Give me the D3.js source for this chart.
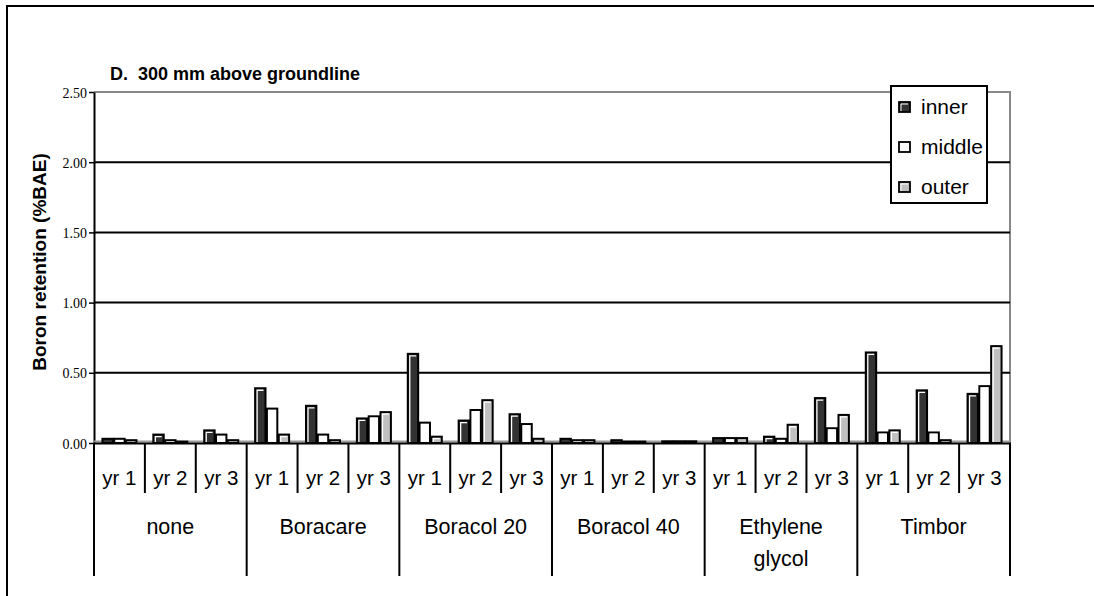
<!DOCTYPE html>
<html><head><meta charset="utf-8">
<script src="https://cdn.jsdelivr.net/npm/d3@7"></script>
<style>
html,body{margin:0;padding:0;background:#fff;}
svg{display:block;}
</style></head>
<body>
<svg id="chart" width="1094" height="596"></svg>
<script>
// ---- data ----
const groups = ["none", "Boracare", "Boracol 20", "Boracol 40", "Ethylene glycol", "Timbor"];
const years = ["yr 1", "yr 2", "yr 3"];
const seriesNames = ["inner", "middle", "outer"];
const inner  = [0.03, 0.06, 0.09,  0.39, 0.265, 0.175,  0.635, 0.16, 0.205,  0.03, 0.02, 0.012,  0.035, 0.045, 0.32,  0.645, 0.375, 0.35];
const middle = [0.03, 0.02, 0.06,  0.245, 0.06, 0.19,   0.145, 0.235, 0.135, 0.02, 0.01, 0.012,  0.035, 0.03, 0.105,  0.075, 0.075, 0.405];
const outer  = [0.02, 0.01, 0.02,  0.06, 0.02, 0.22,    0.045, 0.305, 0.03,  0.02, 0.01, 0.012,  0.035, 0.13, 0.2,    0.09, 0.02, 0.69];
const yTicks = [0, 0.5, 1.0, 1.5, 2.0, 2.5];
const colors = {inner: "#333333", middle: "#ffffff", outer: "#c0c0c0"};

const seriesVals = {inner, middle, outer};
const cats = [];
groups.forEach(g => years.forEach(y => cats.push(g + "|" + y)));

const SANS = "'Liberation Sans', Arial, sans-serif";
const SERIF = "'Liberation Serif', 'Times New Roman', serif";

const svg = d3.select("#chart");
const L = 94, R = 1010, T = 92, B = 443;

const x = d3.scaleBand().domain(cats).range([L, R]).paddingInner(0).paddingOuter(0);
const y = d3.scaleLinear().domain([0, 2.5]).range([B, T]);
const x1 = d3.scaleBand().domain(seriesNames).range([-17, 17]).paddingInner(0.12);

// outer frame (top & left)
svg.append("path").attr("d", "M7,596 V6 H1094").attr("fill", "none").attr("stroke", "#000").attr("stroke-width", 2);

// title
svg.append("text").attr("x", 110).attr("y", 80)
  .attr("font-family", SANS).attr("font-weight", "bold").attr("font-size", 18)
  .style("white-space", "pre").text("D.  300 mm above groundline");

// plot border (gray top and right)
svg.append("path").attr("d", `M${L},${y(2.5)} H${R} V${B}`).attr("fill", "none").attr("stroke", "#888").attr("stroke-width", 2);

// gridlines
svg.append("g").selectAll("line").data(yTicks.filter(t => t > 0 && t < 2.5)).join("line")
  .attr("x1", L).attr("x2", R).attr("y1", d => y(d)).attr("y2", d => y(d))
  .attr("stroke", "#000").attr("stroke-width", 2);

// y axis
const yAxis = d3.axisLeft(y).tickValues(yTicks).tickFormat(d3.format(".2f")).tickSize(5).tickSizeOuter(0);
const ya = svg.append("g").attr("transform", `translate(${L},0)`).call(yAxis);
ya.select(".domain").attr("stroke", "#000").attr("stroke-width", 2);
ya.selectAll(".tick line").attr("stroke", "#000").attr("stroke-width", 1.5);
ya.selectAll(".tick text").attr("font-family", SERIF).attr("font-size", 14)
  .attr("fill", "#000").attr("x", -7).attr("dy", "0.36em");

// y label
svg.append("text").attr("transform", `translate(46,262) rotate(-90)`)
  .attr("text-anchor", "middle").attr("font-family", SANS)
  .attr("font-weight", "bold").attr("font-size", 19).text("Boron retention (%BAE)");

// floor
svg.append("line").attr("x1", L).attr("x2", R).attr("y1", B - 1.5).attr("y2", B - 1.5).attr("stroke", "#999").attr("stroke-width", 2);

// bars
const barData = [];
cats.forEach((c, i) => seriesNames.forEach(s => barData.push({c, s, v: seriesVals[s][i]})));
const bg = svg.append("g");
const bars = bg.selectAll("g.bar").data(barData).join("g").attr("class", "bar");
bars.append("rect")
  .attr("x", d => x(d.c) + x.bandwidth() / 2 + x1(d.s))
  .attr("y", d => y(d.v))
  .attr("width", x1.bandwidth())
  .attr("height", d => B - y(d.v))
  .attr("fill", d => colors[d.s]).attr("stroke", "#000").attr("stroke-width", 2);
bars.filter(d => B - y(d.v) > 5).append("path")
  .attr("d", d => {
    const bx = x(d.c) + x.bandwidth() / 2 + x1(d.s) + 2;
    const by = y(d.v) + 2;
    return `M${bx},${B - 1} V${by} H${bx + x1.bandwidth() - 4}`;
  })
  .attr("fill", "none").attr("stroke", "#fff").attr("stroke-width", 1.3);

// x axis line
svg.append("line").attr("x1", L).attr("x2", R + 1).attr("y1", B + 0.5).attr("y2", B + 0.5).attr("stroke", "#000").attr("stroke-width", 2);

// year ticks and labels
const xg = svg.append("g").attr("font-family", SANS);
const boundaries = cats.map(c => x(c)).concat([x(cats[cats.length - 1]) + x.bandwidth()]);
xg.selectAll("line.yt").data(boundaries).join("line").attr("class", "yt")
  .attr("x1", d => d).attr("x2", d => d).attr("y1", B).attr("y2", (d, i) => i % 3 === 0 ? 576 : 493)
  .attr("stroke", "#000").attr("stroke-width", 2);
xg.selectAll("text.yl").data(cats).join("text").attr("class", "yl")
  .attr("x", d => x(d) + x.bandwidth() / 2).attr("y", 485).attr("text-anchor", "middle")
  .attr("font-size", 20.5)
  .text(d => d.split("|")[1]);

// group labels
const gl = xg.selectAll("text.gl").data(groups).join("text").attr("class", "gl")
  .attr("x", (g, i) => (x(g + "|" + years[0]) + x(g + "|" + years[2]) + x.bandwidth()) / 2)
  .attr("y", 534).attr("text-anchor", "middle").attr("font-size", 21.5);
gl.each(function(g) {
  const parts = g === "Ethylene glycol" ? ["Ethylene", "glycol"] : [g];
  const t = d3.select(this);
  parts.forEach((p, k) => t.append("tspan").attr("x", t.attr("x")).attr("dy", k === 0 ? 0 : 32).text(p));
});

// legend
const lg = svg.append("g");
lg.append("rect").attr("x", 891).attr("y", 86).attr("width", 96).attr("height", 117)
  .attr("fill", "#fff").attr("stroke", "#000").attr("stroke-width", 2);
const li = lg.selectAll("g.li").data(seriesNames).join("g").attr("class", "li")
  .attr("transform", (d, i) => `translate(0,${114 + i * 40})`);
li.append("rect").attr("x", 899).attr("y", -12).attr("width", 11).attr("height", 10)
  .attr("fill", d => colors[d]).attr("stroke", "#000").attr("stroke-width", 1.8);
li.append("path").attr("d", "M901,-3 V-10 H908").attr("fill", "none").attr("stroke", "#fff").attr("stroke-width", 1);
li.append("text").attr("x", 921).attr("y", 0).attr("font-family", SANS)
  .attr("font-size", 21).text(d => d);
</script>
</body></html>
